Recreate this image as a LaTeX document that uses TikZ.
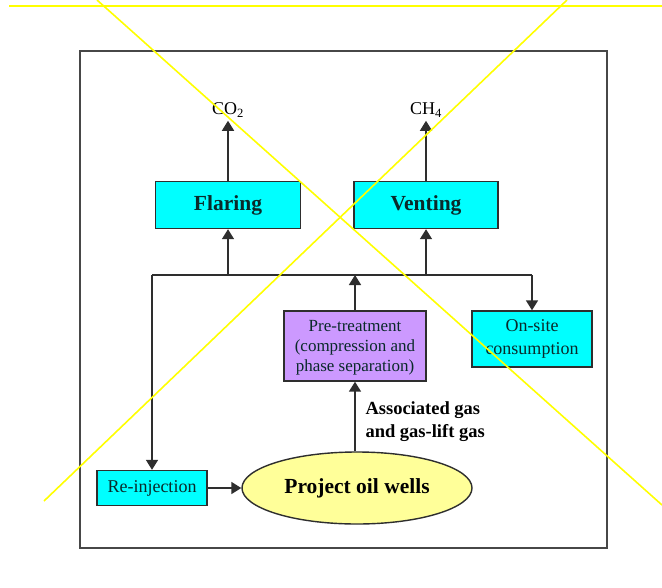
\documentclass[tikz,border=0pt]{standalone}
\usepackage{fontspec}
\setmainfont{Liberation Serif}
\usetikzlibrary{shapes.geometric,arrows.meta}
\definecolor{boxcyan}{HTML}{00FFFF}
\definecolor{boxpurple}{HTML}{CC99FF}
\definecolor{ellyellow}{HTML}{FFFF99}
\definecolor{linegray}{HTML}{2E2E2E}
\definecolor{frame}{HTML}{474747}
\definecolor{cross}{HTML}{FFFF00}
\definecolor{boxtext}{HTML}{0A2A2A}
\tikzset{
  x=1pt, y=-1pt,
  procbox/.style={draw=linegray, line width=1.4pt, fill=boxcyan, text=boxtext, align=center, inner sep=0pt},
  bigtext/.style={font=\fontsize{21.5}{24}\selectfont\bfseries},
  smalltext/.style={font=\fontsize{18}{20}\selectfont},
  conn/.style={draw=linegray, line width=1.6pt},
  arr/.style={conn, -{Triangle[length=10pt,width=12pt]}},
  crossline/.style={draw=cross, line width=1.6pt},
}
\begin{document}
\begin{tikzpicture}
\useasboundingbox (0,0) rectangle (662,587);
\fill[white] (0,0) rectangle (662,587);
% outer frame
\draw[frame, line width=2pt] (80,51) rectangle (607,548);

% nodes
\node[smalltext] (co2) at (228,110) {CO\textsubscript{2}};
\node[smalltext] (ch4) at (426,110) {CH\textsubscript{4}};
\node[procbox, bigtext, minimum width=145pt, minimum height=47pt] (flaring) at (228,205) {Flaring};
\node[procbox, bigtext, minimum width=144pt, minimum height=47pt] (venting) at (426,205) {Venting};
\node[procbox, font=\fontsize{17}{20}\selectfont, fill=boxpurple, minimum width=142pt, minimum height=70pt] (pretreat) at (355,346)
  {\strut Pre-treatment\\(compression and\\phase separation)};
\node[procbox, font=\fontsize{18}{23}\selectfont, minimum width=120pt, minimum height=56pt] (onsite) at (532,339) {On-site\\consumption};
\node[procbox, smalltext, minimum width=110pt, minimum height=35pt] (reinj) at (152,488) {\strut Re-injection};
\node[ellipse, draw=linegray, line width=1.4pt, fill=ellyellow, bigtext, minimum width=230pt, minimum height=72pt, inner sep=0pt] (wells) at (357,488) {Project oil wells};
\node[font=\fontsize{18.5}{23}\selectfont\bfseries, align=left, anchor=west] (assoc) at (362,422) {Associated gas\\and gas-lift gas};

% bus
\coordinate (busL) at (152,275);
\coordinate (busR) at (532,275);
\draw[conn] (busL) -- (busR);

% connectors
\draw[arr] (flaring.north) -- (co2.south);
\draw[arr] (venting.north) -- (ch4.south);
\draw[arr] (flaring.south |- busL) -- (flaring.south);
\draw[arr] (venting.south |- busL) -- (venting.south);
\draw[arr] (pretreat.north) -- (pretreat.north |- busL);
\draw[arr] (busL) -- (reinj.north);
\draw[arr] (busR) -- (onsite.north);
\draw[arr] (wells.north -| pretreat.south) -- (pretreat.south);
\draw[arr] (reinj.east) -- (wells.west);

% yellow cross-out lines
\draw[crossline] (9,6) -- (662,6);
\draw[crossline] (97,0) -- (662,505);
\draw[crossline] (567,0) -- (44,501);
\end{tikzpicture}
\end{document}
